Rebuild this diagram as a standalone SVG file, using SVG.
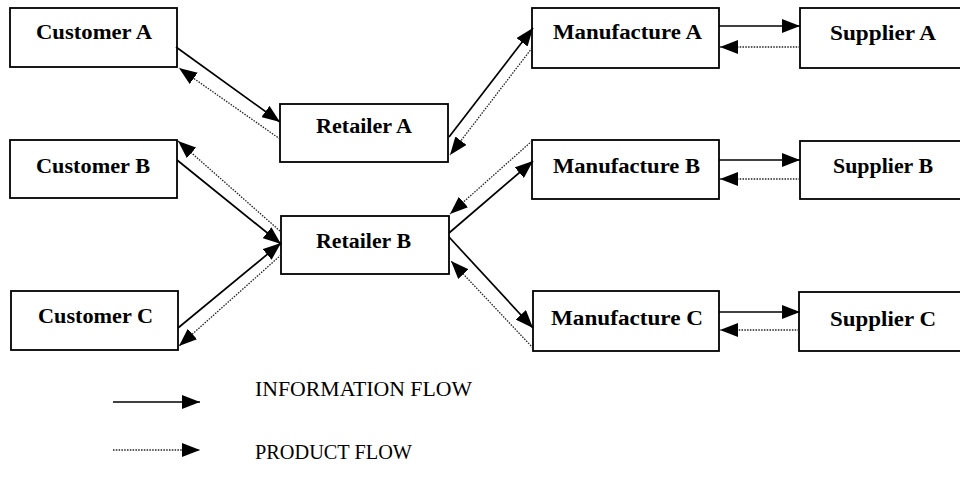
<svg xmlns="http://www.w3.org/2000/svg" width="960" height="487" viewBox="0 0 960 487">
<style>
.box{fill:#fff;stroke:#000;stroke-width:1.8}
.lbl{font-family:"Liberation Serif","Times New Roman",serif;font-weight:bold;font-size:20.5px;fill:#000}
.leg{font-family:"Liberation Serif","Times New Roman",serif;font-size:20px;fill:#000}
.info{stroke:#000;stroke-width:1.7;fill:none;marker-end:url(#ah)}
.prod{stroke:#222;stroke-width:1.3;stroke-dasharray:1.5 1.3;fill:none;marker-end:url(#ah)}
</style>
<defs>
<marker id="ah" markerUnits="userSpaceOnUse" markerWidth="18" markerHeight="14" refX="18" refY="7" orient="auto">
<path d="M0,0 L18,7 L0,14 Z" fill="#000"/>
</marker>
</defs>
<rect width="960" height="487" fill="#fff"/>
<g id="customer-a"><rect class="box" x="10" y="8" width="167" height="59"/><text class="lbl" x="36" y="39" textLength="116" lengthAdjust="spacingAndGlyphs">Customer A</text></g>
<g id="customer-b"><rect class="box" x="10" y="140" width="167" height="58"/><text class="lbl" x="36" y="173" textLength="114" lengthAdjust="spacingAndGlyphs">Customer B</text></g>
<g id="customer-c"><rect class="box" x="11" y="291" width="167" height="59"/><text class="lbl" x="38" y="323" textLength="115" lengthAdjust="spacingAndGlyphs">Customer C</text></g>
<g id="retailer-a"><rect class="box" x="280" y="104" width="168" height="58"/><text class="lbl" x="316" y="133" textLength="96" lengthAdjust="spacingAndGlyphs">Retailer A</text></g>
<g id="retailer-b"><rect class="box" x="281" y="216" width="168" height="58"/><text class="lbl" x="316" y="248" textLength="95" lengthAdjust="spacingAndGlyphs">Retailer B</text></g>
<g id="manufacture-a"><rect class="box" x="532" y="8" width="187" height="60"/><text class="lbl" x="553" y="39" textLength="149" lengthAdjust="spacingAndGlyphs">Manufacture A</text></g>
<g id="manufacture-b"><rect class="box" x="532" y="140" width="187" height="59"/><text class="lbl" x="553" y="173" textLength="147" lengthAdjust="spacingAndGlyphs">Manufacture B</text></g>
<g id="manufacture-c"><rect class="box" x="533" y="291" width="186" height="60"/><text class="lbl" x="551" y="325" textLength="152" lengthAdjust="spacingAndGlyphs">Manufacture C</text></g>
<g id="supplier-a"><rect class="box" x="800" y="8" width="165" height="60"/><text class="lbl" x="830" y="40" textLength="106" lengthAdjust="spacingAndGlyphs">Supplier A</text></g>
<g id="supplier-b"><rect class="box" x="800" y="141" width="165" height="58"/><text class="lbl" x="833" y="173" textLength="100" lengthAdjust="spacingAndGlyphs">Supplier B</text></g>
<g id="supplier-c"><rect class="box" x="799" y="292" width="166" height="59"/><text class="lbl" x="830" y="326" textLength="106" lengthAdjust="spacingAndGlyphs">Supplier C</text></g>
<g id="connectors">
<line class="info" x1="176" y1="47" x2="280" y2="122"/>
<line class="prod" x1="280" y1="139" x2="179" y2="68"/>
<line class="info" x1="449" y1="137" x2="533" y2="28"/>
<line class="prod" x1="532" y1="48" x2="450" y2="155"/>
<line class="info" x1="177" y1="160" x2="281" y2="244"/>
<line class="prod" x1="280" y1="231" x2="178" y2="141"/>
<line class="info" x1="178" y1="328" x2="281" y2="243"/>
<line class="prod" x1="281" y1="255" x2="179" y2="346"/>
<line class="info" x1="449" y1="233" x2="533" y2="161"/>
<line class="prod" x1="532" y1="141" x2="450" y2="214"/>
<line class="info" x1="449" y1="237" x2="533" y2="328"/>
<line class="prod" x1="533" y1="348" x2="451" y2="261"/>
<line class="info" x1="719" y1="26" x2="800" y2="26"/>
<line class="prod" x1="800" y1="47" x2="720" y2="47"/>
<line class="info" x1="719" y1="160" x2="800" y2="160"/>
<line class="prod" x1="800" y1="179" x2="720" y2="179"/>
<line class="info" x1="719" y1="312" x2="800" y2="312"/>
<line class="prod" x1="799" y1="330" x2="720" y2="330"/>
</g>
<g id="legend">
<line class="info" x1="113" y1="402" x2="200" y2="402"/>
<text class="leg" x="255" y="396" textLength="217" lengthAdjust="spacingAndGlyphs">INFORMATION FLOW</text>
<line class="prod" x1="113" y1="450" x2="200" y2="450"/>
<text class="leg" x="255" y="459" textLength="157" lengthAdjust="spacingAndGlyphs">PRODUCT FLOW</text>
</g>
</svg>
